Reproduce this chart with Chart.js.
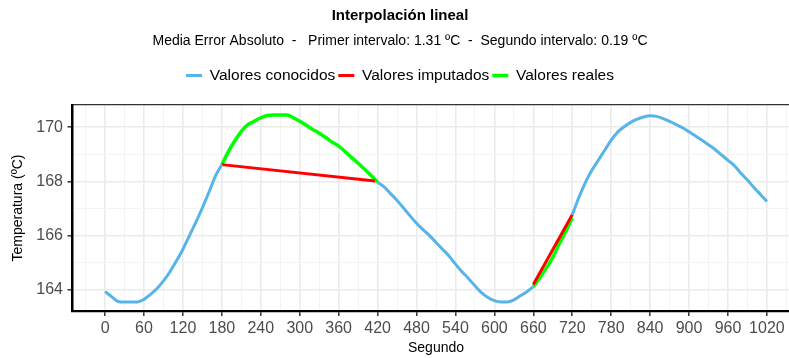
<!DOCTYPE html>
<html><head><meta charset="utf-8">
<script src="https://cdn.jsdelivr.net/npm/chart.js@4/dist/chart.umd.min.js"></script>
<style>
html,body{margin:0;padding:0;background:#fff;overflow:hidden;}
#wrap{width:789px;height:358px;overflow:hidden;position:relative;}
canvas{display:block;}
</style></head><body>
<div id="wrap"><canvas id="c" width="800" height="358"></canvas></div>
<script>
// ---- data ----
const knownSeconds = [0,10,20,30,40,50,60,70,80,90,100,110,120,130,140,150,160,170,180,
  190,200,210,220,230,240,250,260,270,280,290,300,310,320,330,340,350,360,370,380,390,400,410,
  420,430,440,450,460,470,480,490,500,510,520,530,540,550,560,570,580,590,600,610,620,630,640,650,660,
  670,680,690,700,710,
  720,730,740,750,760,770,780,790,800,810,820,830,840,850,860,870,880,890,900,910,920,930,940,950,960,970,980,990,1000,1010,1020];
const knownValues = [163.94,163.75,163.57,163.55,163.55,163.55,163.65,163.83,164.05,164.33,164.67,165.07,165.5,166.0,166.5,167.03,167.6,168.2,168.62,
  null,null,null,null,null,null,null,null,null,null,null,null,null,null,null,null,null,null,null,null,null,null,null,
  167.97,167.8,167.55,167.3,167.02,166.73,166.46,166.22,166.0,165.75,165.5,165.25,164.95,164.67,164.42,164.15,163.9,163.72,163.6,163.55,163.55,163.63,163.78,163.93,164.12,
  null,null,null,null,null,
  166.77,167.4,167.95,168.4,168.78,169.15,169.52,169.82,170.02,170.18,170.3,170.38,170.42,170.4,170.32,170.22,170.1,169.98,169.83,169.68,169.52,169.35,169.18,168.98,168.78,168.58,168.3,168.05,167.78,167.52,167.26];

const imputedSeconds = [180, 416, 540, 660, 720];
const imputedValues  = [168.62, 168.02, null, 164.2, 166.77];

const realSeconds = [180,190,200,210,220,230,240,250,260,270,280,290,300,310,320,330,340,350,360,370,380,390,400,410,420,
  540, 660,670,680,690,700,710,720];
const realValues = [168.62,169.1,169.5,169.85,170.1,170.22,170.35,170.43,170.45,170.45,170.45,170.35,170.22,170.07,169.92,169.78,169.62,169.45,169.3,169.1,168.88,168.67,168.45,168.22,167.97,
  null, 164.12,164.45,164.8,165.2,165.7,166.15,166.65];

const xTickLabels = [0,60,120,180,240,300,360,420,480,540,600,660,720,780,840,900,960,1020];
const yTickLabels = [164,166,168,170];

const seriesNames = ['Valores conocidos','Valores imputados','Valores reales'];
const titleText = 'Interpolación lineal';
const subtitleText = 'Media Error Absoluto  -   Primer intervalo: 1.31 ºC  -  Segundo intervalo: 0.19 ºC';

// ---- build ----
const pts = (xs, ys) => xs.map((x, i) => ({x: x, y: ys[i]}));
const xAll = [];
xTickLabels.forEach((v, i) => {
  if (i === 0) xAll.push(v - (xTickLabels[1] - v) / 2);
  else xAll.push((xTickLabels[i - 1] + v) / 2);
  xAll.push(v);
});
xAll.push(xTickLabels[xTickLabels.length - 1] + (xTickLabels[1] - xTickLabels[0]) / 2);
const yAll = [];
yTickLabels.forEach((v, i) => { if (i > 0) yAll.push((yTickLabels[i - 1] + v) / 2); yAll.push(v); });

const FONT = "'Liberation Sans', Arial, sans-serif";
const isMajX = v => xTickLabels.includes(v);
const isMajY = v => yTickLabels.includes(v);

new Chart(document.getElementById('c'), {
  type: 'line',
  data: {
    datasets: [
      {label: seriesNames[0], data: pts(knownSeconds, knownValues), borderColor: '#56B4E9', backgroundColor: '#56B4E9', borderWidth: 3, pointRadius: 0, cubicInterpolationMode: 'monotone', spanGaps: false},
      {label: seriesNames[1], data: pts(imputedSeconds, imputedValues), borderColor: '#FF0000', backgroundColor: '#FF0000', borderWidth: 3, pointRadius: 0, tension: 0, spanGaps: false},
      {label: seriesNames[2], data: pts(realSeconds, realValues), borderColor: '#00FF00', backgroundColor: '#00FF00', borderWidth: 3.5, pointRadius: 0, cubicInterpolationMode: 'monotone', spanGaps: false}
    ]
  },
  options: {
    responsive: false,
    animation: false,
    devicePixelRatio: 1,
    events: [],
    layout: {padding: 0},
    font: {family: FONT},
    plugins: {
      tooltip: {enabled: false},
      title: {display: true, text: titleText, color: '#000', font: {family: FONT, size: 15, weight: 'bold'}, padding: {top: 6.5, bottom: 3}},
      subtitle: {display: true, text: subtitleText, color: '#000', font: {family: FONT, size: 14}, padding: {top: 4.8, bottom: 15.6}},
      legend: {position: 'top', labels: {usePointStyle: true, pointStyle: 'line', pointStyleWidth: 16, padding: 3, color: '#000', font: {family: FONT, size: 15.5}}}
    },
    scales: {
      x: {
        type: 'linear', position: 'bottom', min: -51, max: 1071,
        afterBuildTicks: s => { s.ticks = xAll.map(v => ({value: v})); },
        afterFit: s => { s.height = 47; },
        ticks: {autoSkip: false, maxRotation: 0, padding: 2.5, color: '#4D4D4D', font: {family: FONT, size: 16},
          callback: v => isMajX(v) ? String(v) : ''},
        grid: {
          color: c => (c.tick && isMajX(c.tick.value)) ? '#EBEBEB' : '#F4F4F4',
          lineWidth: c => (c.tick && isMajX(c.tick.value)) ? 1.6 : 1,
          tickColor: c => (c.tick && isMajX(c.tick.value)) ? '#333' : 'rgba(0,0,0,0)',
          tickLength: 5, tickWidth: 1.5
        },
        border: {display: true, color: '#000', width: 2.2},
        title: {display: true, text: 'Segundo', color: '#000', font: {family: FONT, size: 14}, padding: {top: 0, bottom: 1.6}}
      },
      x2: {
        type: 'linear', position: 'top', min: 0, max: 1,
        afterFit: s => { s.height = 11.8; },
        ticks: {display: false},
        grid: {drawOnChartArea: false, drawTicks: false},
        border: {display: true, color: '#333', width: 1.3}
      },
      y: {
        type: 'linear', position: 'left', min: 163.22, max: 170.82,
        afterBuildTicks: s => { s.ticks = yAll.map(v => ({value: v})); },
        afterFit: s => { s.width = 72; },
        ticks: {autoSkip: false, padding: 4.5, color: '#4D4D4D', font: {family: FONT, size: 16},
          callback: v => isMajY(v) ? String(v) : ''},
        grid: {
          color: c => (c.tick && isMajY(c.tick.value)) ? '#EBEBEB' : '#F4F4F4',
          lineWidth: c => (c.tick && isMajY(c.tick.value)) ? 1.6 : 1,
          tickColor: c => (c.tick && isMajY(c.tick.value)) ? '#333' : 'rgba(0,0,0,0)',
          tickLength: 4.5, tickWidth: 1.5
        },
        border: {display: true, color: '#000', width: 2.5},
        title: {display: true, text: 'Temperatura (ºC)', color: '#000', font: {family: FONT, size: 14}, padding: {top: 9.6, bottom: 0}}
      }
    }
  }
});
</script>
</body></html>
